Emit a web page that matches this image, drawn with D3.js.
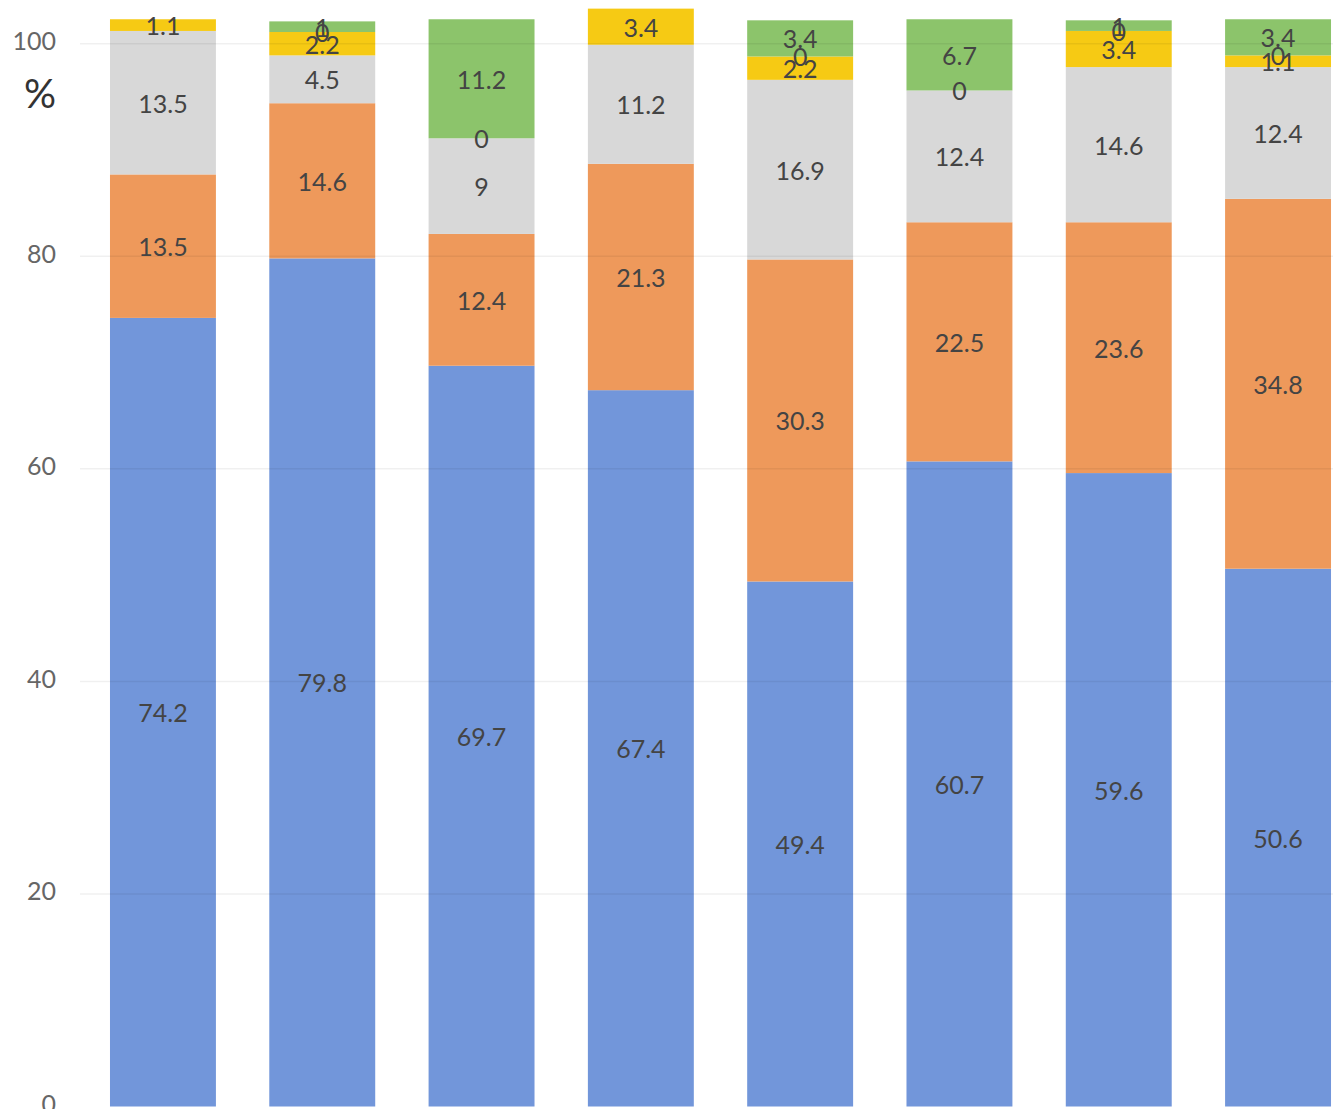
<!DOCTYPE html>
<html>
<head>
<meta charset="utf-8">
<script src="https://cdn.jsdelivr.net/npm/d3@7"></script>
<style>
  html, body { margin: 0; padding: 0; background: #fff; }
  svg { display: block; }
</style>
</head>
<body>
<div id="chart"></div>
<script>
// ---- data ----
const categories = ["1", "2", "3", "4", "5", "6", "7", "8"];
const seriesKeys = ["blue", "orange", "gray", "yellow", "zero", "green"];
const blueValues   = [74.2, 79.8, 69.7, 67.4, 49.4, 60.7, 59.6, 50.6];
const orangeValues = [13.5, 14.6, 12.4, 21.3, 30.3, 22.5, 23.6, 34.8];
const grayValues   = [13.5, 4.5, 9, 11.2, 16.9, 12.4, 14.6, 12.4];
const yellowValues = [1.1, 2.2, 0, 3.4, 2.2, 0, 3.4, 1.1];
const zeroValues   = [null, 0, null, null, 0, null, 0, 0];
const greenValues  = [null, 1, 11.2, null, 3.4, 6.7, 1, 3.4];
const yTicks = [0, 20, 40, 60, 80, 100];
const colors = ["#7296da", "#ee995b", "#d8d8d8", "#f6ca14", "#b0b0b0", "#8cc46b"];

const W = 1333, H = 1109;
const seriesArrays = [blueValues, orangeValues, grayValues, yellowValues, zeroValues, greenValues];
const rows = categories.map((c, i) => {
  const r = { cat: c };
  seriesKeys.forEach((k, j) => { r[k] = seriesArrays[j][i]; });
  return r;
});

const svg = d3.select("#chart").append("svg").attr("width", W).attr("height", H);

const x = d3.scaleBand().domain(categories).range([83.3, 1357.7]).paddingInner(0.335).paddingOuter(0.1675);
const y = d3.scaleLinear().domain([0, 100]).range([1106.5, 43.7]);

const stack = d3.stack().keys(seriesKeys).value((d, k) => d[k] == null ? 0 : d[k]);
const stacked = stack(rows);

// bars
const gBars = svg.append("g");
stacked.forEach((s, si) => {
  gBars.selectAll(null).data(s).join("rect")
    .attr("x", d => x(d.data.cat))
    .attr("width", x.bandwidth())
    .attr("y", d => y(d[1]))
    .attr("height", d => Math.max(0, y(d[0]) - y(d[1])))
    .attr("fill", colors[si]);
});

// faint gridlines
svg.append("g").selectAll("line").data(yTicks.filter(t => t > 0)).join("line")
  .attr("x1", 80).attr("x2", W)
  .attr("y1", d => y(d)).attr("y2", d => y(d))
  .attr("stroke", "#000").attr("stroke-opacity", 0.06).attr("stroke-width", 1.5);

// y axis labels
const yAxis = d3.axisLeft(y).tickValues(yTicks).tickSize(0).tickPadding(0);
const gy = svg.append("g").attr("transform", "translate(56,-2)").call(yAxis);
gy.select(".domain").remove();
gy.selectAll("text")
  .attr("font-family", "Lato, 'Open Sans', sans-serif")
  .attr("font-size", 25)
  .attr("fill", "#666");

svg.append("text")
  .attr("x", 40).attr("y", 93)
  .attr("text-anchor", "middle").attr("dominant-baseline", "central")
  .attr("font-family", "Lato, 'Open Sans', sans-serif")
  .attr("font-size", 40)
  .attr("fill", "#333")
  .text("%");

// value labels
const gLab = svg.append("g")
  .attr("font-family", "Lato, 'Open Sans', sans-serif")
  .attr("font-size", 25)
  .attr("fill", "#444")
  .attr("text-anchor", "middle")
  .attr("dominant-baseline", "central");
stacked.forEach((s, si) => {
  gLab.selectAll(null).data(s.filter(d => d.data[s.key] != null)).join("text")
    .attr("x", d => x(d.data.cat) + x.bandwidth() / 2)
    .attr("y", d => (y(d[0]) + y(d[1])) / 2)
    .text(d => d.data[s.key]);
});
</script>
</body>
</html>
